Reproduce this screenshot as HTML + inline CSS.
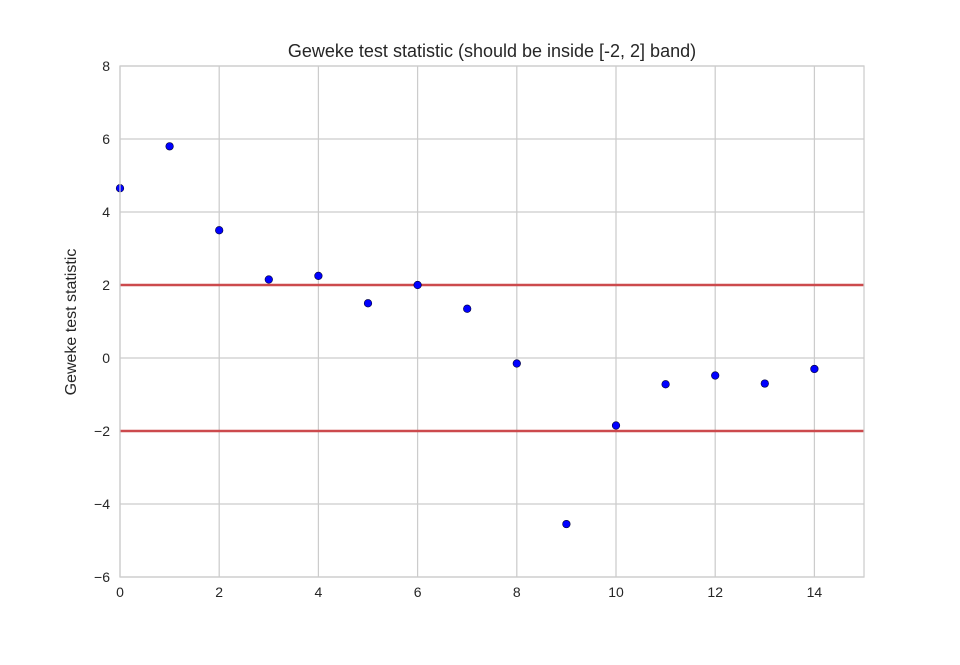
<!DOCTYPE html>
<html><head><meta charset="utf-8"><style>
body{margin:0;background:#fff;}
svg text{font-family:"Liberation Sans",sans-serif;fill:#262626;}
</style></head><body>
<svg id="chart" width="960" height="660">
<text x="492" y="57" font-size="18" text-anchor="middle">Geweke test statistic (should be inside [-2, 2] band)</text>
<text transform="translate(76,322) rotate(-90)" font-size="16" text-anchor="middle">Geweke test statistic</text>
<g id="grid"></g><g id="bands"></g><g id="points"></g><g id="ticks"></g>
<rect x="120" y="66" width="744" height="511" fill="none" stroke="#cccccc" stroke-width="1.25"/>
</svg>
<script>
const xTicks=[0,2,4,6,8,10,12,14];
const yTicks=[8,6,4,2,0,-2,-4,-6];
const yTickLabels=["8","6","4","2","0","\u22122","\u22124","\u22126"];
const xValues=[0,1,2,3,4,5,6,7,8,9,10,11,12,13,14];
const zValues=[4.65,5.8,3.5,2.15,2.25,1.5,2.0,1.35,-0.15,-4.55,-1.85,-0.72,-0.48,-0.7,-0.3];
const bandLevels=[2,-2];
const L=120,R=864,T=66,B=577,xmin=0,xmax=15,ymin=-6,ymax=8;
const sx=v=>L+(v-xmin)/(xmax-xmin)*(R-L);
const sy=v=>B-(v-ymin)/(ymax-ymin)*(B-T);
const NS="http://www.w3.org/2000/svg";
function mk(tag,attrs,parent,txt){const e=document.createElementNS(NS,tag);for(const k in attrs)e.setAttribute(k,attrs[k]);if(txt!==undefined)e.textContent=txt;document.getElementById(parent).appendChild(e);return e;}
xTicks.forEach(t=>{
 const g=mk('line',{x1:sx(t),x2:sx(t),y1:T,y2:B,stroke:'#cccccc','stroke-width':1.25},'grid');
 
 
 const l=mk('text',{x:sx(t),y:B+20,'font-size':14,'text-anchor':'middle'},'ticks',String(t));
 
 
});
yTicks.forEach((t,i)=>{
 const g=mk('line',{x1:L,x2:R,y1:sy(t),y2:sy(t),stroke:'#cccccc','stroke-width':1.25},'grid');
 
 
 const l=mk('text',{x:L-10,y:sy(t)+5,'font-size':14,'text-anchor':'end'},'ticks',yTickLabels[i]);
 
 
});
bandLevels.forEach(b=>{
 const e=mk('line',{x1:L,x2:R,y1:sy(b),y2:sy(b),stroke:'#cc4a4d','stroke-width':2.5},'bands');
 
 
});
xValues.forEach((x,i)=>{
 const c=mk('circle',{cx:sx(x),cy:sy(zValues[i]),r:3.8,fill:'#0000ff',stroke:'#000033','stroke-width':0.6},'points');
 
 
});
</script>
</body></html>
